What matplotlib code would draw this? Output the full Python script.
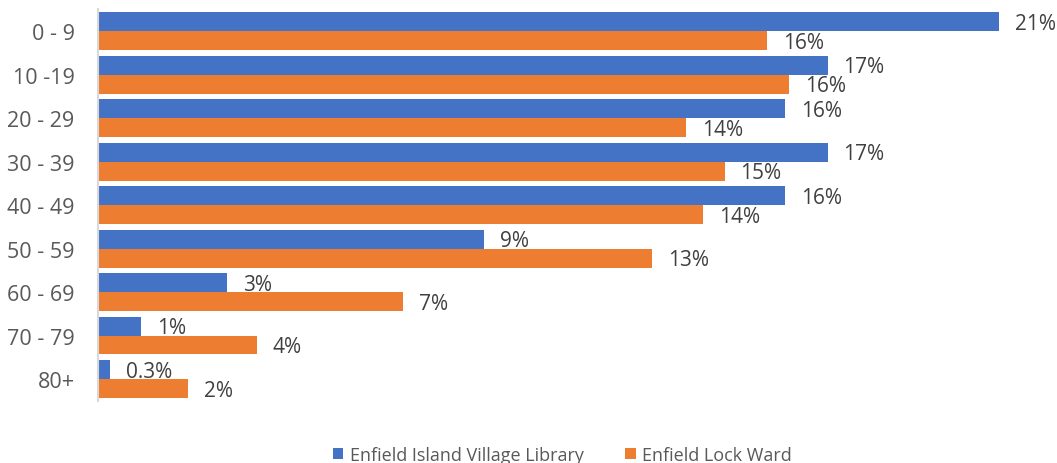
import matplotlib
import numpy as np
from matplotlib import pyplot as plt

matplotlib.use("Agg")

# データ
categories = ["0 - 9", "10 -19", "20 - 29", "30 - 39", "40 - 49", "50 - 59", "60 - 69", "70 - 79", "80+"]
library = [21.0, 17.0, 16.0, 17.0, 16.0, 9.0, 3.0, 1.0, 0.27]
ward = [15.6, 16.1, 13.7, 14.6, 14.1, 12.9, 7.1, 3.7, 2.1]
library_labels = ["21%", "17%", "16%", "17%", "16%", "9%", "3%", "1%", "0.3%"]
ward_labels = ["16%", "16%", "14%", "15%", "14%", "13%", "7%", "4%", "2%"]
series_names = ["Enfield Island Village Library", "Enfield Lock Ward"]

colors = ["#4472C4", "#ED7D31"]
plt.rcParams["font.family"] = ["Open Sans", "DejaVu Sans"]

fig = plt.figure(figsize=(10.57, 4.64), dpi=100)
ax = fig.add_axes([0.093, 0.134, 0.905, 0.8437])

y = np.arange(len(categories))
h = 0.435
b1 = ax.barh(y - h / 2, library, height=h, color=colors[0], label=series_names[0])
b2 = ax.barh(y + h / 2, ward, height=h, color=colors[1], label=series_names[1])

# 値ラベル
for bars, labels in [(b1, library_labels), (b2, ward_labels)]:
    for bar, lab in zip(bars, labels):
        ax.annotate(
            lab,
            (bar.get_width(), bar.get_y() + bar.get_height() / 2),
            xytext=(11.5, -1.2),
            textcoords="offset points",
            va="center",
            ha="left",
            fontsize=15,
            color="#404040",
        )

ax.set_xlim(0, 22.3)
ax.set_ylim(8.5, -0.5)
ax.set_yticks(y, categories)
ax.tick_params(axis="y", length=0, pad=17, labelsize=15.5, labelcolor="#595959")
ax.set_xticks([])
for s in ["top", "right", "bottom"]:
    ax.spines[s].set_visible(False)
ax.spines["left"].set_color("#d9d9d9")
ax.spines["left"].set_linewidth(1.5)

leg = fig.legend(
    loc="center",
    bbox_to_anchor=(0.532, 0.018),
    ncol=2,
    frameon=False,
    handlelength=0.6,
    handleheight=0.6,
    handletextpad=0.35,
    columnspacing=2.3,
    fontsize=13,
)
for t in leg.get_texts():
    t.set_color("#595959")

plt.savefig("out.png", dpi=100)
